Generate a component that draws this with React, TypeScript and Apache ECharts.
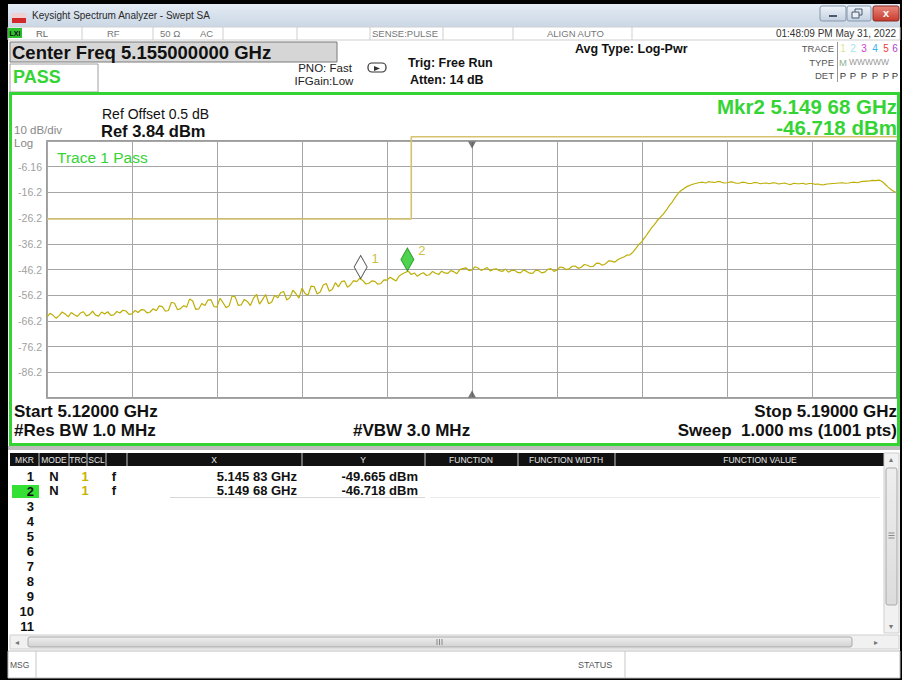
import React, { useEffect, useRef } from 'react';
import * as echarts from 'echarts';

// ---------------- instrument settings ----------------
const sweepStartMHz = 5120;
const sweepStopMHz = 5190;
const sweepStepMHz = 0.25;
const centerFreqMHz = 5155;
const refLevelDbm = 3.84;
const dbPerDiv = 10;
const divisions = 10;

// ---------------- trace 1 (dBm), one value per 0.25 MHz from 5120 to 5190 MHz ----------------
const traceLevelDbm = [
  // 5120.00 - 5124.75
  -64.6, -63.2, -64.0, -65.1, -64.1, -62.7, -63.5, -64.6, -62.9, -63.8,
  -64.4, -63.1, -62.6, -64.2, -63.7, -62.4, -63.9, -64.3, -62.7, -63.5,
  // 5125.00 - 5129.75
  -62.6, -64.0, -63.8, -62.5, -63.1, -62.0, -62.3, -63.6, -63.4, -62.1,
  -62.9, -61.8, -61.9, -63.1, -62.7, -61.4, -62.2, -60.3, -60.6, -62.4,
  // 5130.00 - 5134.75
  -62.1, -58.9, -59.3, -61.8, -61.4, -60.2, -60.8, -57.6, -58.4, -61.7,
  -61.5, -59.4, -60.2, -58.1, -57.9, -60.6, -60.7, -57.3, -59.1, -61.0,
  // 5135.00 - 5139.75
  -60.3, -56.4, -56.8, -60.1, -59.9, -57.8, -58.6, -60.2, -57.4, -55.8,
  -59.6, -57.9, -55.9, -59.5, -58.9, -56.2, -57.2, -55.1, -54.8, -58.0,
  // 5140.00 - 5144.75
  -57.1, -54.2, -55.6, -57.3, -53.4, -55.5, -56.2, -52.6, -52.8, -55.7,
  -54.9, -52.2, -51.6, -54.6, -53.8, -51.3, -52.9, -50.9, -50.6, -53.1,
  // 5145.00 - 5149.75
  -52.1, -50.5, -50.9, -49.6, -50.4, -51.8, -51.5, -50.6, -50.8, -51.9,
  -51.6, -50.2, -50.3, -49.2, -49.9, -50.6, -48.7, -47.9, -47.3, -46.8,
  // 5150.00 - 5154.75
  -48.1, -47.5, -48.8, -47.9, -47.4, -48.5, -48.2, -46.9, -47.6, -48.1,
  -46.8, -47.5, -47.7, -46.6, -47.0, -47.8, -46.2, -45.8, -45.5, -46.6,
  // 5155.00 - 5159.75
  -46.3, -45.1, -45.6, -46.5, -46.0, -45.4, -46.7, -46.1, -45.9, -46.6,
  -46.9, -46.0, -47.2, -46.5, -46.4, -47.3, -47.5, -46.3, -46.9, -47.6,
  // 5160.00 - 5164.75
  -47.7, -46.4, -46.6, -47.5, -47.2, -46.1, -45.8, -46.9, -46.3, -45.2,
  -45.4, -46.2, -45.9, -44.9, -44.8, -45.7, -45.3, -44.2, -44.5, -45.1,
  // 5165.00 - 5169.75
  -44.9, -43.7, -43.8, -44.5, -43.9, -42.8, -42.9, -43.3, -42.4, -41.8,
  -41.3, -40.6, -40.5, -39.4, -37.9, -36.4, -35.2, -33.6, -31.9, -30.2,
  // 5170.00 - 5174.75
  -28.8, -27.2, -25.9, -24.6, -23.1, -21.3, -19.8, -18.0, -16.4, -15.3,
  -14.5, -13.8, -13.3, -12.9, -12.6, -12.3, -12.2, -12.5, -12.0, -12.2,
  // 5175.00 - 5179.75
  -12.3, -11.9, -12.1, -12.5, -12.4, -12.1, -12.2, -12.6, -12.6, -12.2,
  -12.3, -12.7, -12.7, -12.3, -12.4, -12.8, -12.6, -12.5, -12.8, -12.4,
  // 5180.00 - 5184.75
  -12.5, -12.9, -12.7, -12.5, -12.9, -13.1, -12.6, -12.8, -12.8, -12.6,
  -13.0, -12.7, -12.7, -13.0, -12.9, -13.2, -13.1, -12.9, -12.8, -12.7,
  // 5185.00 - 5189.75
  -12.6, -12.5, -12.4, -12.6, -12.5, -12.3, -12.2, -12.4, -12.0, -11.9,
  -11.8, -11.7, -11.5, -11.6, -11.4, -11.8, -12.9, -14.0, -15.0, -15.8,
  // 5190.00
  -16.2,
];

// ---------------- limit line ----------------
const limitFreqMHz = [5120, 5150, 5150, 5190];
const limitLevelDbm = [-26.5, -26.5, 5.5, 5.5];

// ---------------- markers ----------------
const markerIds = ['1', '2'];
const markerFreqMHz = [5145.83, 5149.68];
const markerLevelDbm = [-49.665, -46.718];
const activeMarker = 1; // index of Mkr2

// ---------------- table ----------------
const tableHeaders = ['MKR', 'MODE', 'TRC', 'SCL', 'X', 'Y', 'FUNCTION', 'FUNCTION WIDTH', 'FUNCTION VALUE'];
const tableRowLabels = ['1', '2', '3', '4', '5', '6', '7', '8', '9', '10', '11'];

const FONT = '"Liberation Sans", Arial, Helvetica, sans-serif';
const GREEN = '#35d435';

const fmtGHz = (mhz: number) => {
  const s = (mhz / 1000).toFixed(5);
  return s.slice(0, 5) + ' ' + s.slice(5) + ' GHz';
};
const fmtDbm = (v: number) => v.toFixed(3) + ' dBm';

function txt(text: string, x: number, y: number, size: number, color: string, opts: any = {}) {
  return {
    type: 'text',
    x,
    y,
    z: 20,
    silent: true,
    style: {
      text,
      fill: color,
      font: `${opts.bold ? 'bold ' : ''}${size}px ${FONT}`,
      textAlign: opts.align || 'left',
      textVerticalAlign: 'middle',
    },
  };
}
function rect(x: number, y: number, w: number, h: number, fill: any, stroke?: string, lw = 1, r = 0, z = 5) {
  return {
    type: 'rect',
    z,
    silent: true,
    shape: { x, y, width: w, height: h, r },
    style: { fill, stroke: stroke || null, lineWidth: stroke ? lw : 0 },
  };
}
function line(x1: number, y1: number, x2: number, y2: number, stroke: string, lw = 1, z = 6) {
  return { type: 'line', z, silent: true, shape: { x1, y1, x2, y2 }, style: { stroke, lineWidth: lw } };
}

function buildGraphics() {
  const g: any[] = [];
  const grad = (a: string, b: string) =>
    new echarts.graphic.LinearGradient(0, 0, 0, 1, [
      { offset: 0, color: a },
      { offset: 1, color: b },
    ]);
  // frame (kept behind the plot grid)
  g.push(rect(0, 0, 902, 680, '#000', undefined, 0, 0, -20));
  g.push(rect(8, 4, 892, 674, '#fff', undefined, 0, 0, -19));
  // title bar
  g.push(rect(8, 4, 892, 23, grad('#e3ebf4', '#cbd7e5'), undefined, 0, 0, 2));
  g.push(rect(12, 13, 14, 5, '#f1d2d2'));
  g.push(rect(12, 18, 14, 5, '#d22a2a'));
  g.push(txt('Keysight Spectrum Analyzer - Swept SA', 32, 15, 10, '#2a2a2a'));
  // window buttons
  g.push(rect(820, 6, 26, 15, grad('#eef3f9', '#c4d1e0'), '#8797ab', 1, 2));
  g.push(line(829, 16, 837, 16, '#4a5a70', 2, 7));
  g.push(rect(847, 6, 24, 15, grad('#eef3f9', '#c4d1e0'), '#8797ab', 1, 2));
  g.push(rect(855, 9, 7, 6, 'none', '#4a5a70', 1, 0, 7));
  g.push(rect(852, 12, 7, 6, '#e6edf5', '#4a5a70', 1, 0, 8));
  g.push(rect(873, 6, 26, 15, grad('#e9887c', '#c73a2c'), '#8b2a22', 1, 2));
  g.push(txt('x', 886, 13, 11, '#fff', { bold: true, align: 'center' }));
  // status row
  g.push(rect(8, 27, 892, 13, '#fff', '#cfcfcf'));
  [82, 153, 223, 297, 370, 443, 513, 632].forEach((x) => g.push(line(x, 27, x, 40, '#cfcfcf')));
  g.push(rect(8, 28, 14, 10, '#2fbf2f'));
  g.push(txt('LXI', 15, 33, 7, '#111', { bold: true, align: 'center' }));
  g.push(txt('RL', 36, 33, 9.5, '#666'));
  g.push(txt('RF', 107, 33, 9.5, '#777'));
  g.push(txt('50 Ω', 160, 33, 9.5, '#777'));
  g.push(txt('AC', 200, 33, 9.5, '#777'));
  g.push(txt('SENSE:PULSE', 372, 33, 9.5, '#777'));
  g.push(txt('ALIGN AUTO', 547, 33, 9.5, '#777'));
  g.push(txt('01:48:09 PM May 31, 2022', 896, 33, 10, '#333', { align: 'right' }));
  // center freq + pass
  g.push(rect(10, 42, 327, 20, '#d6d6d6', '#7a7a7a'));
  g.push(txt('Center Freq ' + (centerFreqMHz / 1000).toFixed(9) + ' GHz', 12, 52.5, 18.5, '#111', { bold: true }));
  g.push(rect(10, 64, 88, 28, '#fff', '#a0a0a0'));
  g.push(txt('PASS', 13, 77, 18, GREEN, { bold: true }));
  g.push(txt('PNO: Fast', 325, 68, 11.5, '#222', { align: 'center' }));
  g.push(txt('IFGain:Low', 324, 81, 11.5, '#222', { align: 'center' }));
  g.push(rect(368, 63, 18, 9, '#fff', '#333', 1.2, 4, 7));
  g.push({ type: 'polygon', z: 8, silent: true, shape: { points: [[374, 66], [380, 68.5], [374, 71]] }, style: { fill: '#333' } });
  g.push(txt('Trig: Free Run', 408, 63, 12.5, '#111', { bold: true }));
  g.push(txt('Atten: 14 dB', 410, 80, 12.5, '#111', { bold: true }));
  g.push(txt('Avg Type: Log-Pwr', 575, 49, 12.5, '#111', { bold: true }));
  // trace block
  g.push(txt('TRACE', 834, 48, 9.5, '#555', { align: 'right' }));
  g.push(txt('TYPE', 834, 62, 9.5, '#555', { align: 'right' }));
  g.push(txt('DET', 834, 75, 9.5, '#555', { align: 'right' }));
  g.push(line(837.5, 42, 837.5, 82, '#999'));
  const traceNumColors = ['#d8e890', '#9fe6e6', '#d23cd2', '#34b4f0', '#f03a3a', '#b03cc8'];
  const colX = [843, 853, 864, 875, 886, 895];
  colX.forEach((x, i) => g.push(txt(String(i + 1), x, 48, 10, traceNumColors[i], { align: 'center' })));
  g.push(txt('M', 843, 62, 9.5, '#8fb08f', { align: 'center' }));
  g.push(txt('WWWWW', 849, 62, 8.5, '#9a9a9a'));
  colX.forEach((x) => g.push(txt('P', x, 75, 9.5, '#333', { align: 'center' })));
  // green panel
  g.push({ type: 'rect', z: 9, silent: true, shape: { x: 10.5, y: 93.5, width: 888, height: 351 }, style: { fill: 'none', stroke: GREEN, lineWidth: 3 } });
  g.push(rect(8, 446, 892, 4, '#bdbdbd'));
  // panel texts
  g.push(txt('Ref Offset 0.5 dB', 102, 114, 14, '#111'));
  g.push(txt('Ref ' + refLevelDbm.toFixed(2) + ' dBm', 101, 131, 16.5, '#111', { bold: true }));
  g.push(txt(dbPerDiv + ' dB/div', 14, 130, 11.5, '#888'));
  g.push(txt('Log', 14, 143, 11.5, '#888'));
  g.push(txt('Mkr' + markerIds[activeMarker] + ' ' + fmtGHz(markerFreqMHz[activeMarker]), 897, 106, 20.5, GREEN, { bold: true, align: 'right' }));
  g.push(txt(fmtDbm(markerLevelDbm[activeMarker]), 897, 127, 20.5, GREEN, { bold: true, align: 'right' }));
  g.push(txt('Trace 1 Pass', 57, 157, 15.5, GREEN));
  g.push(txt('Start ' + (sweepStartMHz / 1000).toFixed(5) + ' GHz', 14, 411, 17, '#111', { bold: true }));
  g.push(txt('#Res BW 1.0 MHz', 14, 430, 17, '#111', { bold: true }));
  g.push(txt('#VBW 3.0 MHz', 353, 430, 17, '#111', { bold: true }));
  g.push(txt('Stop ' + (sweepStopMHz / 1000).toFixed(5) + ' GHz', 897, 411, 17, '#111', { bold: true, align: 'right' }));
  g.push(txt('Sweep\u00a0 1.000 ms (1001 pts)', 897, 430, 17, '#111', { bold: true, align: 'right' }));
  // table header
  g.push(rect(10, 453, 874, 13, '#111'));
  const sep = [39, 69, 87, 106, 127, 302, 425, 518, 615];
  sep.forEach((x) => g.push(line(x, 453, x, 466, '#8a8a8a', 1.5, 7)));
  const hdrX = [24.5, 54, 78, 96.5, 214, 363, 471, 566, 760];
  tableHeaders.forEach((h, i) => g.push(txt(h, hdrX[i], 460, 8.5, '#e8e8e8', { align: 'center' })));
  // table rows
  g.push(rect(12, 485, 27, 13, '#35e035'));
  tableRowLabels.forEach((r, i) => g.push(txt(r, 34, 476 + i * 15, 13, '#111', { bold: true, align: 'right' })));
  markerIds.forEach((m, i) => {
    const y = 476 + i * 14.5;
    g.push(txt('N', 54, y, 13, '#111', { bold: true, align: 'center' }));
    g.push(txt('1', 85, y, 13, '#c8b400', { bold: true, align: 'center' }));
    g.push(txt('f', 114, y, 13, '#111', { bold: true, align: 'center' }));
    g.push(txt(fmtGHz(markerFreqMHz[i]), 297, y, 13, '#111', { bold: true, align: 'right' }));
    g.push(txt(fmtDbm(markerLevelDbm[i]), 418, y, 13, '#111', { bold: true, align: 'right' }));
  });
  g.push(line(170, 497.5, 425, 497.5, '#d8d8d8'));
  g.push(line(430, 497.5, 880, 497.5, '#ececec'));
  // vertical scrollbar
  g.push(rect(884, 453, 15, 180, '#f1f1f1', '#cfcfcf'));
  g.push(rect(886, 468, 11, 137, grad('#eeeeee', '#dcdcdc'), '#a9a9a9', 1, 2, 7));
  [533, 535.5, 538].forEach((y) => g.push(line(888.5, y, 894.5, y, '#888', 1, 8)));
  g.push(txt('▴', 891, 459, 8, '#777', { align: 'center' }));
  g.push(txt('▾', 891, 626, 8, '#777', { align: 'center' }));
  // horizontal scrollbar
  g.push(rect(10, 635, 889, 14, '#f1f1f1', '#cfcfcf'));
  g.push(rect(28, 637, 824, 10, grad('#efefef', '#d2d2d2'), '#a9a9a9', 1, 2, 7));
  [437, 439.5, 442].forEach((x) => g.push(line(x, 639, x, 645, '#888', 1, 8)));
  g.push(txt('◂', 17, 642, 8, '#777', { align: 'center' }));
  g.push(txt('▸', 876, 642, 8, '#777', { align: 'center' }));
  // message bar
  g.push(rect(8, 651, 892, 27, '#fff', '#bdbdbd'));
  g.push(line(36, 651, 36, 678, '#c8c8c8'));
  g.push(line(625, 651, 625, 678, '#c8c8c8'));
  g.push(txt('MSG', 10, 665, 8.5, '#555'));
  g.push(txt('STATUS', 578, 665, 9, '#555'));
  return g;
}

export default function App() {
  const ref = useRef<HTMLDivElement>(null);
  useEffect(() => {
    if (!ref.current) return;
    const chart = echarts.init(ref.current, undefined, { renderer: 'svg' });
    const bottomDbm = refLevelDbm - dbPerDiv * divisions;
    const traceFreqMHz = traceLevelDbm.map((_, i) => sweepStartMHz + i * sweepStepMHz);
    const option: any = {
      animation: false,
      textStyle: { fontFamily: FONT },
      grid: {
        left: 47,
        top: 141,
        width: 850,
        height: 257,
        show: true,
        backgroundColor: '#fff',
        borderColor: '#7c7c7c',
        borderWidth: 1.5,
      },
      xAxis: [
        { type: 'value', min: sweepStartMHz, max: sweepStopMHz, show: false, splitLine: { show: false } },
        {
          type: 'value',
          min: 0,
          max: divisions,
          interval: 1,
          axisLine: { show: false },
          axisTick: { show: false },
          axisLabel: { show: false },
          splitLine: { show: true, lineStyle: { color: '#a6a6a6', width: 1 } },
        },
      ],
      yAxis: [
        { type: 'value', min: bottomDbm, max: refLevelDbm, show: false, splitLine: { show: false } },
        {
          type: 'value',
          min: 0,
          max: divisions,
          interval: 1,
          position: 'left',
          axisLine: { show: false },
          axisTick: { show: false },
          axisLabel: {
            margin: 5,
            color: '#9f9f9f',
            fontSize: 10.5,
            fontFamily: FONT,
            formatter: (v: number) =>
              v >= 1 && v <= divisions - 1 ? (refLevelDbm - (divisions - v) * dbPerDiv).toPrecision(3) : '',
          },
          splitLine: { show: true, lineStyle: { color: '#a6a6a6', width: 1 } },
        },
      ],
      graphic: { elements: buildGraphics() },
      series: [
        {
          name: 'Limit',
          type: 'line',
          xAxisIndex: 0,
          yAxisIndex: 0,
          data: limitFreqMHz.map((f, i) => [f, limitLevelDbm[i]]),
          showSymbol: false,
          clip: false,
          lineStyle: { color: '#d6c26c', width: 1.6 },
          z: 3,
        },
        {
          name: 'Trace 1',
          type: 'line',
          xAxisIndex: 0,
          yAxisIndex: 0,
          data: traceFreqMHz.map((f, i) => [f, traceLevelDbm[i]]),
          showSymbol: false,
          lineStyle: { color: '#bdae08', width: 1.2 },
          z: 4,
        },
        {
          name: 'Center',
          type: 'scatter',
          xAxisIndex: 0,
          yAxisIndex: 0,
          clip: false,
          silent: true,
          itemStyle: { color: '#555' },
          data: [
            { value: [centerFreqMHz, refLevelDbm], symbol: 'triangle', symbolSize: [8, 7], symbolRotate: 180, symbolOffset: [0, 4] },
            { value: [centerFreqMHz, bottomDbm], symbol: 'triangle', symbolSize: [8, 7], symbolOffset: [0, -4] },
          ],
          z: 5,
        },
        {
          name: 'Markers',
          type: 'scatter',
          xAxisIndex: 0,
          yAxisIndex: 0,
          symbol: 'diamond',
          symbolSize: [13, 23],
          symbolOffset: [0, -11.5],
          data: markerFreqMHz.map((f, i) => ({
            value: [f, markerLevelDbm[i]],
            itemStyle:
              i === activeMarker
                ? { color: '#22c822', borderColor: '#178a17', borderWidth: 1 }
                : { color: '#ffffff', borderColor: '#333', borderWidth: 1 },
          })),
          label: {
            show: true,
            position: 'right',
            distance: 4,
            offset: [0, -9],
            formatter: (p: any) => markerIds[p.dataIndex],
            color: '#bcae0c',
            fontSize: 13,
            fontFamily: FONT,
          },
          z: 6,
        },
      ],
    };
    chart.setOption(option);
    return () => chart.dispose();
  }, []);
  return <div ref={ref} style={{ position: 'absolute', left: 0, top: 0, width: 902, height: 680 }} />;
}
